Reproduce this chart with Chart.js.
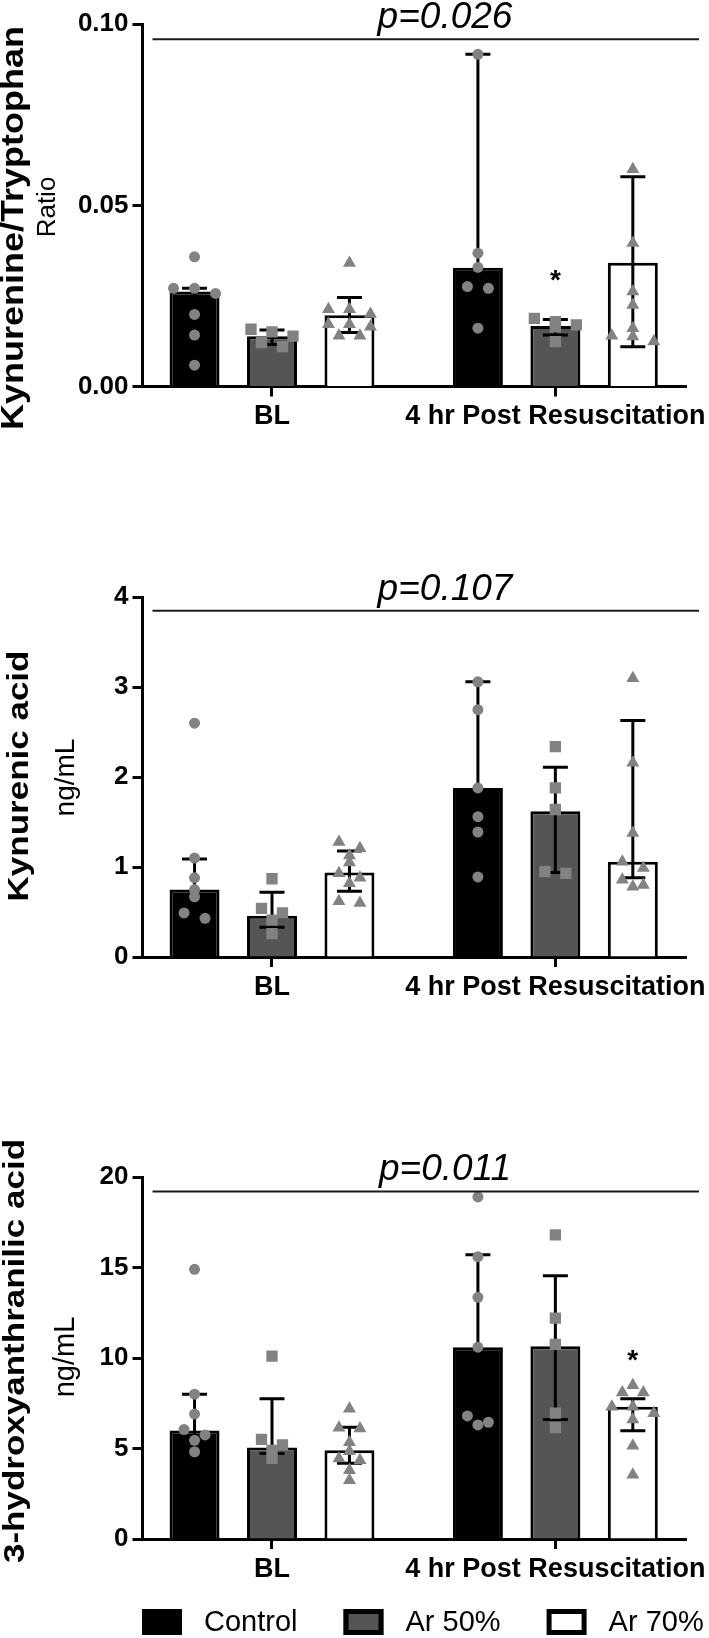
<!DOCTYPE html>
<html>
<head>
<meta charset="utf-8">
<script src="https://cdn.jsdelivr.net/npm/chart.js@4.4.1/dist/chart.umd.min.js"></script>
<style>
  html, body { margin: 0; padding: 0; background: #fff; }
  body { width: 709px; height: 1638px; position: relative; overflow: hidden; }
  .panel { position: absolute; left: 0; width: 709px; }
</style>
</head>
<body>
<div class="panel" style="top:0;height:545px"><canvas id="kyn-trp"></canvas></div>
<div class="panel" style="top:545px;height:540px"><canvas id="kyn-acid"></canvas></div>
<div class="panel" style="top:1085px;height:553px"><canvas id="hydroxy"></canvas></div>
<script>
const groups = ['BL', '4 hr Post Resuscitation'];
const treatments = ['Control', 'Ar 50%', 'Ar 70%'];

// Kynurenine/Tryptophan ratio  [treatment][group]
const ktrBars  = [[0.0262, 0.0328], [0.0139, 0.0167], [0.0197, 0.0342]];
const ktrUpper = [[0.0271, 0.0917], [0.0156, 0.0185], [0.0246, 0.0579]];
const ktrLower = [[0.0150, 0.0215], [0.0116, 0.0142], [0.0149, 0.0110]];
const ktrPoints = [
  [[0.0358, 0.0271, 0.0271, 0.0257, 0.0199, 0.0142, 0.0059], [0.0917, 0.0368, 0.0329, 0.0276, 0.0271, 0.0161]],
  [[0.0158, 0.0151, 0.0139, 0.0121, 0.0110], [0.0188, 0.0179, 0.0170, 0.0165, 0.0124]],
  [[0.0341, 0.0213, 0.0213, 0.0200, 0.0172, 0.0172, 0.0165, 0.0140, 0.0140], [0.0600, 0.0396, 0.0262, 0.0225, 0.0161, 0.0140, 0.0138, 0.0124]]
];
const ktrTicks = [0, 0.05, 0.10];
const ktrTickLabels = ['0.00', '0.05', '0.10'];

// Kynurenic acid, ng/mL
const kaBars  = [[0.75, 1.88], [0.46, 1.62], [0.94, 1.06]];
const kaUpper = [[1.09, 3.06], [0.72, 2.11], [1.18, 2.63]];
const kaLower = [[0.47, 1.00], [0.33, 0.94], [0.73, 0.88]];
const kaPoints = [
  [[2.60, 1.10, 0.88, 0.75, 0.67, 0.49, 0.43], [3.06, 2.75, 1.88, 1.56, 1.39, 0.89]],
  [[0.87, 0.54, 0.49, 0.41, 0.26], [2.34, 1.88, 1.64, 0.95, 0.93]],
  [[1.28, 1.21, 1.13, 1.05, 0.93, 0.88, 0.82, 0.62, 0.60], [3.10, 2.16, 1.38, 1.06, 0.99, 0.86, 0.80, 0.78]]
];
const kaTicks = [0, 1, 2, 3, 4];
const kaTickLabels = ['0', '1', '2', '3', '4'];

// 3-hydroxyanthranilic acid, ng/mL
const haBars  = [[6.0, 10.6], [5.06, 10.65], [4.9, 7.3]];
const haUpper = [[8.0, 15.7], [7.75, 14.55], [6.18, 7.75]];
const haLower = [[5.3, 6.5], [4.73, 6.6], [4.18, 5.98]];
const haPoints = [
  [[14.9, 8.0, 6.9, 6.05, 5.75, 5.45, 4.82], [18.9, 15.6, 13.35, 10.6, 6.8, 6.45, 6.3]],
  [[10.1, 5.5, 5.2, 4.9, 4.45], [16.8, 12.2, 10.75, 6.95, 6.15]],
  [[7.2, 6.15, 6.1, 5.35, 4.85, 4.45, 4.35, 3.8, 3.25], [8.5, 8.1, 8.1, 7.3, 7.3, 6.95, 6.6, 5.15, 3.55]]
];
const haTicks = [0, 5, 10, 15, 20];
const haTickLabels = ['0', '5', '10', '15', '20'];

const pTexts = ['p=0.026', 'p=0.107', 'p=0.011'];
const pLevels = [0.0959, 3.851, 19.2];

const ink = '#000000';
const barFills = ['#000000', '#555555', '#ffffff'];
const dotColor = '#828282';
const dotShapes = ['circle', 'rect', 'triangle'];
const dotRadius = [5.5, 8, 7.5];
const FONT = '"Liberation Sans", Arial, Helvetica, sans-serif';

Chart.defaults.font.family = FONT;
Chart.defaults.color = ink;

// place points of one column side by side when they sit at nearly the same height
function swarmOffsets(ys, step, near) {
  const order = ys.map((y, i) => i).sort((a, b) => ys[a] - ys[b]);
  const offs = new Array(ys.length).fill(0);
  let row = [];
  const flush = () => {
    row.forEach((idx, k) => { offs[idx] = (k - (row.length - 1) / 2) * step; });
    row = [];
  };
  order.forEach(idx => {
    if (row.length && ys[idx] - ys[row[0]] > near) flush();
    row.push(idx);
  });
  flush();
  return offs;
}

function figureMarks(spec) {
  return {
    id: 'figureMarks',
    afterDatasetsUpdate(chart) {
      chart.data.datasets.forEach((ds, di) => {
        if (ds.type !== 'scatter') return;
        const pts = chart.getDatasetMeta(di).data;
        const bars = chart.getDatasetMeta(ds.barOf).data;
        groups.forEach((g, gi) => {
          const idx = [];
          ds.data.forEach((p, k) => { if (p.x === gi) idx.push(k); });
          const offs = swarmOffsets(idx.map(k => pts[k].y), 21, 7);
          idx.forEach((k, j) => { pts[k].x = bars[gi].x + offs[j]; });
        });
      });
    },
    afterDatasetDraw(chart, args) {
      const t = args.index;
      if (t >= treatments.length) return;
      const y = chart.scales.y;
      const ctx = chart.ctx;
      ctx.save();
      ctx.strokeStyle = ink;
      ctx.lineWidth = 3;
      args.meta.data.forEach((bar, g) => {
        const top = y.getPixelForValue(spec.upper[t][g]);
        const bot = y.getPixelForValue(spec.lower[t][g]);
        ctx.beginPath();
        ctx.moveTo(bar.x, top); ctx.lineTo(bar.x, bot);
        ctx.moveTo(bar.x - 12.5, top); ctx.lineTo(bar.x + 12.5, top);
        ctx.moveTo(bar.x - 12.5, bot); ctx.lineTo(bar.x + 12.5, bot);
        ctx.stroke();
      });
      ctx.restore();
    },
    afterDraw(chart) {
      const ctx = chart.ctx;
      const area = chart.chartArea;
      const y = chart.scales.y;
      ctx.save();
      ctx.fillStyle = ink;

      // axis titles, rotated
      const rotated = (text, font, pos, squeeze) => {
        ctx.save();
        ctx.translate(pos[0], pos[1]);
        ctx.rotate(-Math.PI / 2);
        ctx.scale(1, squeeze);
        ctx.font = font;
        ctx.textAlign = 'center';
        ctx.textBaseline = 'middle';
        ctx.fillText(text, 0, 0);
        ctx.restore();
      };
      rotated(spec.title, 'bold ' + spec.titleSize + 'px ' + FONT, spec.titlePos, 0.85);
      rotated(spec.unit, spec.unitSize + 'px ' + FONT, spec.unitPos, 1);

      // p-value bracket
      const py = y.getPixelForValue(spec.pLevel);
      ctx.strokeStyle = '#1a1a1a';
      ctx.lineWidth = 2;
      ctx.beginPath();
      ctx.moveTo(area.left + 10, py);
      ctx.lineTo(area.right + 13, py);
      ctx.stroke();
      ctx.font = 'italic 37px ' + FONT;
      ctx.textAlign = 'center';
      ctx.textBaseline = 'alphabetic';
      ctx.fillText(spec.pText, 445, py - 11);

      // significance star
      if (spec.star) {
        const [t, g, level] = spec.star;
        const bar = chart.getDatasetMeta(t).data[g];
        ctx.font = 'bold 28px ' + FONT;
        ctx.textBaseline = 'middle';
        ctx.fillText('*', bar.x, y.getPixelForValue(level) + 6);
      }

      // legend
      if (spec.legend) {
        const [x0, cy] = spec.legend;
        let x = x0;
        ctx.font = '29px ' + FONT;
        ctx.textAlign = 'left';
        ctx.textBaseline = 'middle';
        chart.data.datasets.slice(0, treatments.length).forEach(ds => {
          ctx.fillStyle = ds.backgroundColor;
          ctx.fillRect(x, cy - 13, 40, 26);
          ctx.strokeStyle = ink;
          ctx.lineWidth = 5;
          ctx.strokeRect(x + 2.5, cy - 10.5, 35, 21);
          ctx.fillStyle = ink;
          ctx.fillText(ds.label, x + 62, cy + 1);
          x += 62 + ctx.measureText(ds.label).width + 46;
        });
      }
      ctx.restore();
    }
  };
}

function makePanel(canvasId, spec) {
  const datasets = treatments.map((name, t) => ({
    type: 'bar',
    label: name,
    data: spec.bars[t].map((v, g) => ({ x: g, y: v })),
    backgroundColor: barFills[t],
    borderColor: ink,
    borderWidth: 3,
    categoryPercentage: 0.82,
    barPercentage: 0.645,
    order: 2
  }));
  treatments.forEach((name, t) => {
    datasets.push({
      type: 'scatter',
      label: name + ' values',
      barOf: t,
      data: spec.points[t].flatMap((vals, g) => vals.map(v => ({ x: g, y: v }))),
      pointStyle: dotShapes[t],
      pointRadius: dotRadius[t],
      backgroundColor: dotColor,
      borderWidth: 0,
      order: 0
    });
  });

  const axisGrid = { drawOnChartArea: false, offset: false, tickLength: 10, tickWidth: 3, tickColor: ink };
  const axisBorder = { width: 3, color: ink };

  return new Chart(document.getElementById(canvasId), {
    type: 'bar',
    data: { datasets },
    options: {
      responsive: true,
      maintainAspectRatio: false,
      animation: false,
      events: [],
      layout: { padding: { left: 0, right: 23, top: spec.top, bottom: spec.height - spec.bottom - 60 } },
      plugins: { legend: { display: false }, tooltip: { enabled: false } },
      scales: {
        x: {
          type: 'linear',
          offset: false,
          min: -0.457,
          max: 1.461,
          afterBuildTicks: s => { s.ticks = groups.map((g, i) => ({ value: i })); },
          afterFit: s => { s.height = 60; s.paddingLeft = 0; s.paddingRight = 0; },
          ticks: {
            callback: v => groups[v],
            font: { size: 27, weight: 'bold' },
            color: ink,
            padding: 4,
            maxRotation: 0,
            autoSkip: false
          },
          grid: axisGrid,
          border: axisBorder
        },
        y: {
          min: 0,
          max: spec.ticks[spec.ticks.length - 1],
          afterBuildTicks: s => { s.ticks = spec.ticks.map(v => ({ value: v })); },
          afterFit: s => { s.width = 142.5; s.paddingTop = 0; s.paddingBottom = 0; },
          ticks: {
            callback: (v, i) => spec.tickLabels[i],
            font: { size: 26, weight: 'bold' },
            color: ink,
            padding: 4
          },
          grid: axisGrid,
          border: axisBorder
        }
      }
    },
    plugins: [figureMarks(spec)]
  });
}

makePanel('kyn-trp', {
  bars: ktrBars, upper: ktrUpper, lower: ktrLower, points: ktrPoints,
  ticks: ktrTicks, tickLabels: ktrTickLabels,
  pText: pTexts[0], pLevel: pLevels[0],
  title: 'Kynurenine/Tryptophan', titleSize: 36, titlePos: [15, 228],
  unit: 'Ratio', unitSize: 26, unitPos: [48, 207],
  star: [1, 1, 0.0308],
  height: 545, top: 24.3, bottom: 386.5
});

makePanel('kyn-acid', {
  bars: kaBars, upper: kaUpper, lower: kaLower, points: kaPoints,
  ticks: kaTicks, tickLabels: kaTickLabels,
  pText: pTexts[1], pLevel: pLevels[1],
  title: 'Kynurenic acid', titleSize: 35, titlePos: [19.5, 231],
  unit: 'ng/mL', unitSize: 28, unitPos: [66, 232.5],
  star: null,
  height: 540, top: 52.3, bottom: 412
});

makePanel('hydroxy', {
  bars: haBars, upper: haUpper, lower: haLower, points: haPoints,
  ticks: haTicks, tickLabels: haTickLabels,
  pText: pTexts[2], pLevel: pLevels[2],
  title: '3-hydroxyanthranilic acid', titleSize: 35, titlePos: [16, 266],
  unit: 'ng/mL', unitSize: 29, unitPos: [66, 272],
  star: [2, 1, 10.17],
  legend: [142, 537],
  height: 553, top: 92, bottom: 454
});
</script>
</body>
</html>
